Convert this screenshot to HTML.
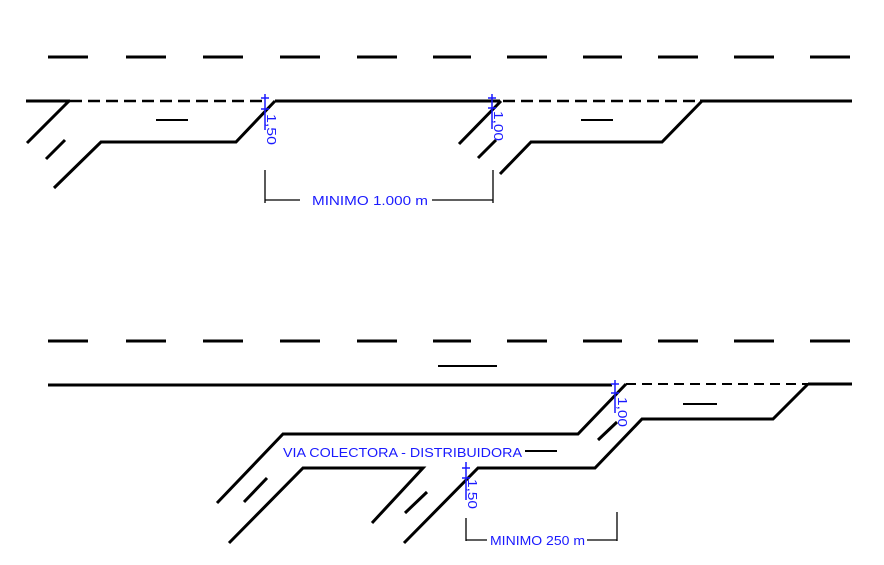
<!DOCTYPE html>
<html><head><meta charset="utf-8"><style>
html,body{margin:0;padding:0;background:#fff;width:884px;height:565px;overflow:hidden}
svg{display:block}
text{font-family:"Liberation Sans",sans-serif;fill:#1a1aff;font-size:13px}
</style></head><body>
<svg width="884" height="565" viewBox="0 0 884 565" xmlns="http://www.w3.org/2000/svg">
<g stroke="#000" stroke-width="3" fill="none" stroke-linecap="butt">
<path d="M48 57h40M126 57h40M203 57h40M280 57h40M357 57h40M433 57h38M507 57h40M583 57h39M658 57h40M734 57h40M810 57h40"/>
<path d="M26 101H70M275 101H500M700 101H852"/>
<path d="M70 101H265" stroke-width="2.5" stroke-dasharray="12 6"/>
<path d="M503 101H700" stroke-width="2.5" stroke-dasharray="12 6"/>
<path d="M69 101L27 143M65 140L46 159M54 188L101 142H236L275 101"/>
<path d="M501 101L459 144M496 140L478 158M500 174L531 142H662L702 101"/>
<path d="M48 341h40M126 341h40M203 341h40M280 341h40M357 341h40M433 341h38M507 341h40M583 341h39M658 341h40M734 341h40M810 341h40"/>
<path d="M48 385H612M808 384H852"/>
<path d="M626 384H808" stroke-width="2" stroke-dasharray="10 6"/>
<path d="M217 503L283 434H578L626 384"/>
<path d="M229 543L303 468H423L372 523"/>
<path d="M244 502L267 478"/>
<path d="M405 513L427 492"/>
<path d="M404 543L478 468H595L642 419H773L808 384"/>
<path d="M598 440L617 422"/>
</g>
<g stroke="#000" stroke-width="2" fill="none">
<path d="M156 120h32M581 120h32M438 366h59M683 404h34M525 451h32"/>
</g>
<g stroke="#000" stroke-width="1.3" fill="none">
<path d="M265 170V203M265 200H493M493 170V203"/>
<path d="M466 518V541M466 540H617M617 512V541"/>
</g>
<g stroke="#1a1aff" stroke-width="1.5" fill="none">
<path d="M265 94V130M261 98h8M261 109h8"/>
<path d="M492 94V129M488 98h8M488 108h8"/>
<path d="M466 462V500M462 468h8M462 478h8"/>
<path d="M615 380V413M611 384h8M611 393h8"/>
</g>
<rect x="300" y="193" width="132" height="14" fill="#fff"/>
<text x="312" y="205" textLength="116" lengthAdjust="spacingAndGlyphs">MINIMO 1.000 m</text>
<rect x="487" y="533" width="100" height="14" fill="#fff"/>
<text x="490" y="545" textLength="95" lengthAdjust="spacingAndGlyphs">MINIMO 250 m</text>
<text x="283" y="457" textLength="239" lengthAdjust="spacingAndGlyphs">VIA COLECTORA - DISTRIBUIDORA</text>
<text transform="translate(267,114) rotate(90)" textLength="31" lengthAdjust="spacingAndGlyphs">1,50</text>
<text transform="translate(494,111) rotate(90)" textLength="30" lengthAdjust="spacingAndGlyphs">1,00</text>
<text transform="translate(468,479) rotate(90)" textLength="30" lengthAdjust="spacingAndGlyphs">1,50</text>
<text transform="translate(618,397) rotate(90)" textLength="30" lengthAdjust="spacingAndGlyphs">1,00</text>
</svg>
</body></html>
